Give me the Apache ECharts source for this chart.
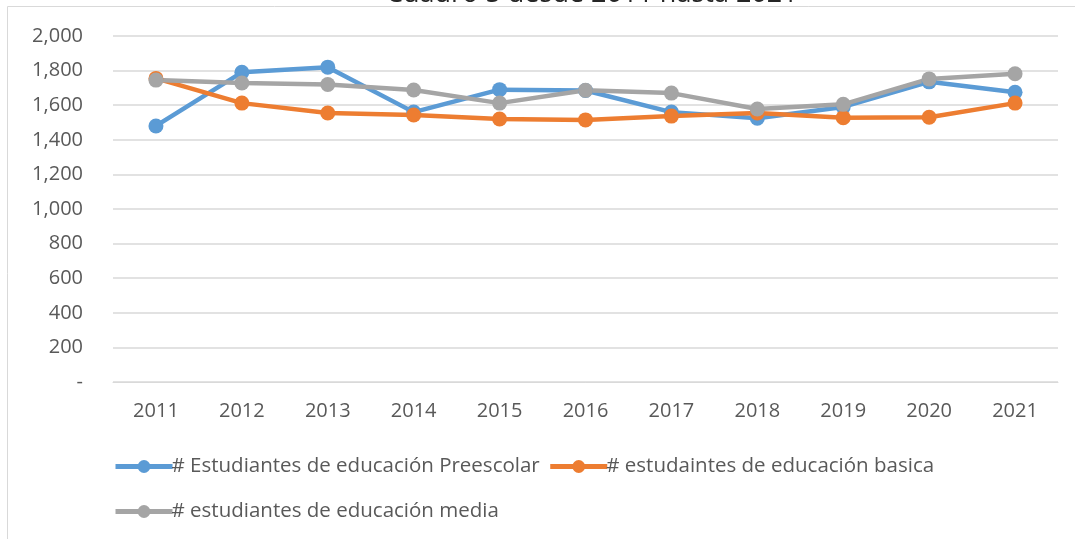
<!DOCTYPE html>
<html>
<head>
<meta charset="utf-8">
<script src="https://cdn.jsdelivr.net/npm/echarts@6/dist/echarts.min.js"></script>
<style>
html,body{margin:0;padding:0;background:#fff;}
#main{width:1075px;height:539px;}
</style>
</head>
<body>
<div id="main"></div>
<script>
var years = ['2011','2012','2013','2014','2015','2016','2017','2018','2019','2020','2021'];
var preescolar = [1480, 1790, 1820, 1560, 1690, 1685, 1560, 1525, 1590, 1735, 1675];
var basica = [1755, 1612, 1555, 1543, 1520, 1515, 1537, 1555, 1528, 1530, 1612];
var media = [1745, 1728, 1720, 1688, 1612, 1686, 1670, 1578, 1605, 1752, 1782];
var serie_names = ['# Estudiantes de educación Preescolar', '# estudaintes de educación basica', '# estudiantes de educación media'];
var colors = ['#5B9BD5', '#ED7D31', '#A5A5A5'];

var font = '"Open Sans", Lato, sans-serif';
var myChart = echarts.init(document.getElementById('main'));

function make_serie(i, values){
	return {
		name: serie_names[i],
		type: 'line',
		data: values,
		symbol: 'circle',
		symbolSize: 15,
		color: colors[i],
		lineStyle: {width: 4.5, color: colors[i]},
		itemStyle: {color: colors[i]},
		emphasis: {disabled: true}
	};
}

function make_legend(top, names){
	return {
		left: 108,
		top: top,
		itemWidth: 57,
		itemHeight: 16,
		itemGap: 8,
		lineStyle: {width: 5},
		textStyle: {fontFamily: font, fontSize: 20.5, color: '#595959', padding: [0, 0, 0, -6]},
		data: names
	};
}

myChart.setOption({
	animation: false,
	title: {
		text: 'Cuadro 5 desde 2011 hasta 2021',
		left: 381,
		top: -24,
		textStyle: {fontFamily: font, fontSize: 27, fontWeight: 'normal', color: '#262626'}
	},
	graphic: [{
		type: 'rect',
		shape: {x: 7.5, y: 6.5, width: 1200, height: 600},
		style: {fill: 'none', stroke: '#d9d9d9', lineWidth: 1},
		silent: true
	}],
	grid: {left: 113, right: 17, top: 36, bottom: 157},
	legend: [
		make_legend(451, [serie_names[0], serie_names[1]]),
		make_legend(496, [serie_names[2]])
	],
	xAxis: {
		type: 'category',
		data: years,
		boundaryGap: true,
		axisLine: {lineStyle: {color: '#d9d9d9', width: 1}},
		axisTick: {show: false},
		axisLabel: {fontFamily: font, fontSize: 20, color: '#595959', margin: 19}
	},
	yAxis: {
		type: 'value',
		min: 0,
		max: 2000,
		interval: 200,
		axisLine: {show: false},
		axisTick: {show: false},
		splitLine: {lineStyle: {color: '#d9d9d9', width: 1.5}},
		axisLabel: {
			fontFamily: font, fontSize: 20, color: '#595959', margin: 30,
			formatter: function(v){
				if(v === 0){ return '-'; }
				return v.toLocaleString('en-US');
			}
		}
	},
	series: [
		make_serie(0, preescolar),
		make_serie(1, basica),
		make_serie(2, media)
	]
});
</script>
</body>
</html>
